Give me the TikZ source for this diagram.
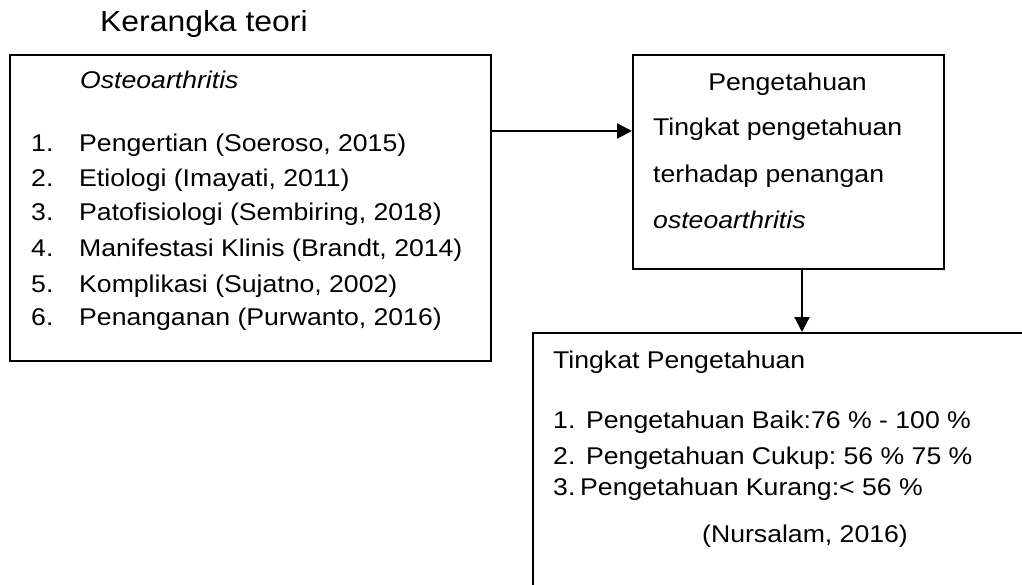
\documentclass[tikz,border=0pt]{standalone}
\usepackage{fontspec}
\setmainfont{Liberation Sans}[FakeStretch=1.1]
\usetikzlibrary{arrows.meta}
\frenchspacing

\newcommand{\isi}{\fontsize{24.2pt}{29pt}\selectfont}
\newcommand{\judul}{\fontsize{29pt}{35pt}\selectfont}

\tikzset{
  kotak/.style={draw, line width=2.2pt, anchor=north west, inner sep=0pt},
  teks/.style={anchor=base west, inner sep=0pt, font=\isi},
  pijl/.style={line width=2.2pt, -{Triangle[length=15pt,width=15pt]}}
}

\begin{document}
\begin{tikzpicture}[x=1pt, y=-1pt]
  \useasboundingbox (0,0) rectangle (1022,585);
  \clip (0,0) rectangle (1022,585);
  \node[teks, font=\judul] (judul) at (100,32) {Kerangka teori};
  % kotak-kotak
  \node[kotak, minimum width=481pt, minimum height=306pt] (oa) at (9,54) {};
  \node[kotak, minimum width=311pt, minimum height=214pt] (peng) at (632,54) {};
  \node[kotak, minimum width=520pt, minimum height=290pt] (tingkat) at (532,332) {};
  % isi kotak osteoarthritis
  \node[teks] (oa0) at (80,89) {\itshape Osteoarthritis};
  \node[teks] (oa1) at (31,152) {\makebox[48pt][l]{1.}Pengertian (Soeroso, 2015)};
  \node[teks] (oa2) at (31,187) {\makebox[48pt][l]{2.}Etiologi (Imayati, 2011)};
  \node[teks] (oa3) at (31,221) {\makebox[48pt][l]{3.}Patofisiologi (Sembiring, 2018)};
  \node[teks] (oa4) at (31,257) {\makebox[48pt][l]{4.}Manifestasi Klinis (Brandt, 2014)};
  \node[teks] (oa5) at (31,292) {\makebox[48pt][l]{5.}Komplikasi (Sujatno, 2002)};
  \node[teks] (oa6) at (31,325) {\makebox[48pt][l]{6.}Penanganan (Purwanto, 2016)};
  % isi kotak pengetahuan
  \node[teks, anchor=base] (peng0) at (787.5,91) {Pengetahuan};
  \node[teks] (peng1) at (653,136) {Tingkat pengetahuan};
  \node[teks] (peng2) at (653,183) {terhadap penangan};
  \node[teks] (peng3) at (653,229) {\itshape osteoarthritis};
  % isi kotak tingkat pengetahuan
  \node[teks] (tk0) at (553,368) {Tingkat Pengetahuan};
  \node[teks] (tk1) at (553,428) {\makebox[33pt][l]{1.}Pengetahuan Baik:76 \% - 100 \%};
  \node[teks] (tk2) at (553,464) {\makebox[33pt][l]{2.}Pengetahuan Cukup: 56 \% 75 \%};
  \node[teks] (tk3) at (553,495) {\makebox[27pt][l]{3.}Pengetahuan Kurang:< 56 \%};
  \node[teks] (sumber) at (702,542) {(Nursalam, 2016)};
  % panah
  \coordinate (kanan) at (0,131);
  \coordinate (bawah) at (802,0);
  \draw[pijl] (oa.east |- kanan) -- (peng.west |- kanan);
  \draw[pijl] (peng.south -| bawah) -- (tingkat.north -| bawah);
\end{tikzpicture}
\end{document}
